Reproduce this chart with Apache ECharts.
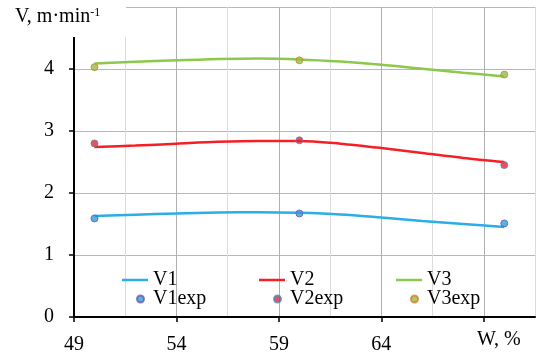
<!DOCTYPE html>
<html>
<head>
<meta charset="utf-8">
<script src="https://cdn.jsdelivr.net/npm/echarts@6/dist/echarts.min.js"></script>
<style>
html, body { margin: 0; padding: 0; background: #fff; }
#chart { width: 543px; height: 356px; }
</style>
</head>
<body>
<div id="chart"></div>
<script>
// smoothed model lines, every 2 % of W
const curveX = [50, 52, 54, 56, 58, 60, 62, 64, 66, 68, 70]
const v1 = [1.63, 1.65, 1.67, 1.685, 1.69, 1.68, 1.655, 1.605, 1.55, 1.50, 1.45]
const v2 = [2.74, 2.765, 2.795, 2.825, 2.84, 2.84, 2.795, 2.725, 2.645, 2.565, 2.50]
const v3 = [4.09, 4.115, 4.14, 4.16, 4.17, 4.155, 4.12, 4.07, 4.005, 3.94, 3.88]

// experimental points
const expX = [50, 60, 70]
const v1exp = [1.59, 1.67, 1.51]
const v2exp = [2.80, 2.85, 2.45]
const v3exp = [4.03, 4.14, 3.91]

// tick labels
const xTicks = [49, 54, 59, 64, 69]
const xLabels = [49, 54, 59, 64]

const FONT = '"Liberation Serif", "Times New Roman", serif'
const pairs = (xs, ys) => xs.map((x, i) => [x, ys[i]])

const chart = echarts.init(document.getElementById('chart'))

const lineSeries = (name, ys, color) => ({
  name: name,
  type: 'line',
  data: pairs(curveX, ys),
  smooth: 0.3,
  symbol: 'none',
  lineStyle: { color: color, width: 2.5 },
  itemStyle: { color: color },
  z: 3
})

const dotSeries = (name, ys, fill, border) => ({
  name: name,
  type: 'scatter',
  data: pairs(expX, ys),
  symbol: 'circle',
  symbolSize: 7,
  itemStyle: { color: fill, borderColor: border, borderWidth: 1 },
  z: 4
})

const legendItem = (name, left, top, isDot) => ({
  data: [name],
  left: left,
  top: top,
  icon: isDot ? 'circle' : 'rect',
  itemWidth: isDot ? 7 : 26,
  itemHeight: isDot ? 7 : 2.5,
  itemGap: 0,
  textStyle: { fontFamily: FONT, fontSize: 20, color: '#000', padding: isDot ? [0, 0, 0, 4] : 0 }
})

chart.setOption({
  animation: false,
  grid: { left: 74, top: 7, right: 8, bottom: 39 },
  xAxis: [
    {
      type: 'value',
      min: 49,
      max: 71.5,
      interval: 2.5,
      axisLine: { show: true, lineStyle: { color: '#000', width: 2 } },
      axisTick: { show: false },
      axisLabel: { show: false },
      splitLine: { show: true, lineStyle: { color: ['#b0b0b0', '#dcdcdc'], width: 1 } }
    },
    {
      type: 'value',
      position: 'bottom',
      min: 49,
      max: 71.5,
      axisLine: { show: false },
      axisTick: { show: true, customValues: xTicks, length: 5, lineStyle: { color: '#000', width: 1.5 } },
      axisLabel: { show: true, customValues: xLabels, margin: 18, fontFamily: FONT, fontSize: 20, color: '#000' },
      splitLine: { show: false }
    }
  ],
  yAxis: {
    type: 'value',
    min: 0,
    max: 5,
    interval: 1,
    axisLine: { show: true, lineStyle: { color: '#000', width: 2 } },
    axisTick: { show: true, length: 5, lineStyle: { color: '#000', width: 1.5 } },
    axisLabel: {
      margin: 20,
      fontFamily: FONT,
      fontSize: 20,
      color: '#000',
      formatter: v => (v >= 5 ? '' : v)
    },
    splitLine: { show: true, lineStyle: { color: '#b8b8b8', width: 1 } }
  },
  legend: [
    legendItem('V1', 117, 265, false),
    legendItem('V2', 254, 265, false),
    legendItem('V3', 391, 265, false),
    legendItem('V1exp', 131, 284, true),
    legendItem('V2exp', 268, 284, true),
    legendItem('V3exp', 405, 284, true)
  ],
  series: [
    lineSeries('V1', v1, '#2badE6'),
    lineSeries('V2', v2, '#f52027'),
    lineSeries('V3', v3, '#8cc84b'),
    dotSeries('V1exp', v1exp, '#2b9fe0', '#6a5aa8'),
    dotSeries('V2exp', v2exp, '#ee2230', '#4d8db5'),
    dotSeries('V3exp', v3exp, '#8bc34a', '#e07a2a')
  ],
  graphic: [
    {
      type: 'rect',
      left: 0,
      top: 0,
      z: 100,
      shape: { width: 126, height: 37 },
      style: { fill: '#fff' }
    },
    {
      type: 'text',
      left: 15,
      top: 7,
      z: 101,
      style: {
        text: '{a|V, m·min}{b|-1}',
        rich: {
          a: { fontFamily: FONT, fontSize: 20, color: '#000' },
          b: { fontFamily: FONT, fontSize: 12, color: '#000', verticalAlign: 'top' }
        }
      }
    },
    {
      type: 'text',
      left: 477,
      top: 330,
      z: 101,
      style: { text: 'W, %', font: '20px ' + FONT, fill: '#000' }
    }
  ]
})
</script>
</body>
</html>
